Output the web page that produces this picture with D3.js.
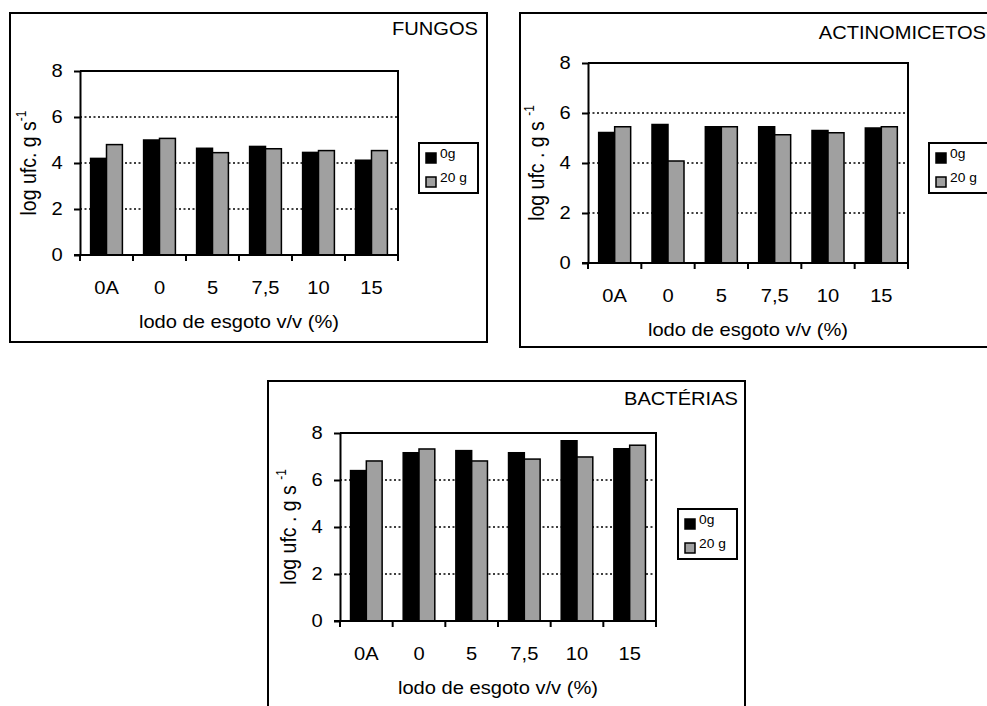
<!DOCTYPE html>
<html>
<head>
<meta charset="utf-8">
<script src="https://cdn.jsdelivr.net/npm/d3@7"></script>
<style>
  body { margin: 0; background: #fff; }
  text { font-family: Arial, "Liberation Sans", sans-serif; fill: #000; }
</style>
</head>
<body>
<div id="chart-area"></div>
<script>
// data
var categories = ["0A", "0", "5", "7,5", "10", "15"];
var seriesNames = ["0g", "20 g"];
var yTicks = [0, 2, 4, 6, 8];

var fungos0 = [4.20, 5.00, 4.64, 4.72, 4.46, 4.12];
var fungos20 = [4.80, 5.07, 4.45, 4.62, 4.54, 4.54];
var actino0 = [5.22, 5.54, 5.45, 5.45, 5.30, 5.40];
var actino20 = [5.45, 4.08, 5.45, 5.13, 5.21, 5.45];
var bact0 = [6.40, 7.16, 7.25, 7.16, 7.67, 7.33];
var bact20 = [6.81, 7.32, 6.81, 6.89, 6.98, 7.48];

var colors = ["#000000", "#a0a0a0"];
var sx = 1.15; // the original text looks a bit wide

var svg = d3.select("#chart-area")
    .append("svg")
    .attr("width", 987)
    .attr("height", 706);

// layout of each panel (pixels)
var panels = [
    { title: "FUNGOS", ylab: "log ufc. g s", s0: fungos0, s1: fungos20,
      box: [10, 13, 487, 342], plot: [80, 71, 398, 255],
      titleX: 478, titleY: 35, legend: [419, 143] },
    { title: "ACTINOMICETOS", ylab: "log ufc . g s ", s0: actino0, s1: actino20,
      box: [520, 13, 1000, 347], plot: [588, 63, 908, 263],
      titleX: 986, titleY: 39, legend: [929, 143] },
    { title: "BACTÉRIAS", ylab: "log ufc . g s ", s0: bact0, s1: bact20,
      box: [268, 381, 745, 720], plot: [340, 433, 656, 621],
      titleX: 738, titleY: 405, legend: [678, 509] }
];

function wideText(g, x, y, txt, size, anchor) {
    return g.append("text")
        .attr("transform", "translate(" + x + "," + y + ") scale(" + sx + ",1)")
        .attr("text-anchor", anchor || "start")
        .attr("font-size", size + "px")
        .text(txt);
}

panels.forEach(drawPanel);

function drawPanel(p) {
    var g = svg.append("g");

    // outer frame
    g.append("rect")
        .attr("x", p.box[0])
        .attr("y", p.box[1])
        .attr("width", p.box[2] - p.box[0])
        .attr("height", p.box[3] - p.box[1])
        .attr("fill", "none")
        .attr("stroke", "#000")
        .attr("stroke-width", 2);

    wideText(g, p.titleX, p.titleY, p.title, 17.5, "end");

    var left = p.plot[0], top = p.plot[1], right = p.plot[2], bottom = p.plot[3];

    var x0 = d3.scaleBand()
        .domain(categories)
        .range([left, right])
        .paddingInner(0.4)
        .paddingOuter(0.2);

    var x1 = d3.scaleBand()
        .domain(seriesNames)
        .range([0, x0.bandwidth()]);

    var y = d3.scaleLinear()
        .domain([0, 8])
        .range([bottom, top]);

    // dotted gridlines
    g.selectAll("line.grid")
        .data(yTicks.filter(function(d) { return d > 0 && d < 8; }))
        .enter()
        .append("line")
        .attr("class", "grid")
        .attr("x1", left)
        .attr("x2", right)
        .attr("y1", function(d) { return y(d); })
        .attr("y2", function(d) { return y(d); })
        .attr("stroke", "#000")
        .attr("stroke-width", 1.5)
        .attr("stroke-dasharray", "2,2.5");

    // bars
    var rows = categories.map(function(c, i) {
        return [{ cat: c, s: seriesNames[0], v: p.s0[i] },
                { cat: c, s: seriesNames[1], v: p.s1[i] }];
    });
    g.selectAll("g.grp")
        .data(rows)
        .enter()
        .append("g")
        .attr("transform", function(d) { return "translate(" + x0(d[0].cat) + ",0)"; })
        .selectAll("rect")
        .data(function(d) { return d; })
        .enter()
        .append("rect")
        .attr("x", function(d) { return x1(d.s); })
        .attr("y", function(d) { return y(d.v); })
        .attr("width", x1.bandwidth())
        .attr("height", function(d) { return bottom - y(d.v); })
        .attr("fill", function(d, i) { return colors[i]; })
        .attr("stroke", "#000")
        .attr("stroke-width", 1.5);

    // plot border top / right
    g.append("path")
        .attr("d", "M" + left + "," + top + "H" + right + "V" + bottom)
        .attr("fill", "none")
        .attr("stroke", "#000")
        .attr("stroke-width", 2);

    // y axis
    var yAxis = g.append("g")
        .attr("transform", "translate(" + left + ",0)")
        .call(d3.axisLeft(y).tickValues(yTicks).tickSize(6).tickPadding(9).tickSizeOuter(0));
    yAxis.select(".domain").attr("stroke-width", 2);
    yAxis.selectAll("line").attr("stroke-width", 2);
    yAxis.selectAll("text")
        .attr("font-size", "17.5px")
        .attr("font-family", "Arial, 'Liberation Sans', sans-serif")
        .attr("transform", "scale(" + sx + ",1)");

    // x axis: ticks sit between groups
    var step = x0.step();
    var xTicks = d3.range(categories.length + 1).map(function(i) { return left + i * step; });
    g.append("line")
        .attr("x1", left - 6).attr("x2", right)
        .attr("y1", bottom).attr("y2", bottom)
        .attr("stroke", "#000")
        .attr("stroke-width", 2);
    g.selectAll("line.xtick")
        .data(xTicks)
        .enter()
        .append("line")
        .attr("class", "xtick")
        .attr("x1", function(d) { return d; })
        .attr("x2", function(d) { return d; })
        .attr("y1", bottom)
        .attr("y2", bottom + 6)
        .attr("stroke", "#000")
        .attr("stroke-width", 2);
    categories.forEach(function(c) {
        wideText(g, x0(c) + x0.bandwidth() / 2, bottom + 39, c, 17.5, "middle");
    });

    wideText(g, (left + right) / 2, bottom + 73, "lodo de esgoto v/v (%)", 17.5, "middle");

    // y label with superscript
    var yl = g.append("text")
        .attr("transform", "translate(" + (left - 44) + "," + ((top + bottom) / 2) + ") rotate(-90) scale(1," + sx + ")")
        .attr("text-anchor", "middle")
        .attr("font-size", "19.5px");
    yl.append("tspan").text(p.ylab);
    yl.append("tspan")
        .attr("font-size", "12px")
        .attr("dy", -9)
        .text("-1");

    // legend
    var lx = p.legend[0], ly = p.legend[1];
    g.append("rect")
        .attr("x", lx).attr("y", ly)
        .attr("width", 59).attr("height", 50)
        .attr("fill", "#fff")
        .attr("stroke", "#000")
        .attr("stroke-width", 2);
    seriesNames.forEach(function(name, i) {
        g.append("rect")
            .attr("x", lx + 7)
            .attr("y", ly + 10 + i * 24)
            .attr("width", 10)
            .attr("height", 10)
            .attr("fill", colors[i])
            .attr("stroke", "#000")
            .attr("stroke-width", 1.5);
        wideText(g, lx + 21, ly + 15 + i * 24, name, 12);
    });
}
</script>
</body>
</html>
